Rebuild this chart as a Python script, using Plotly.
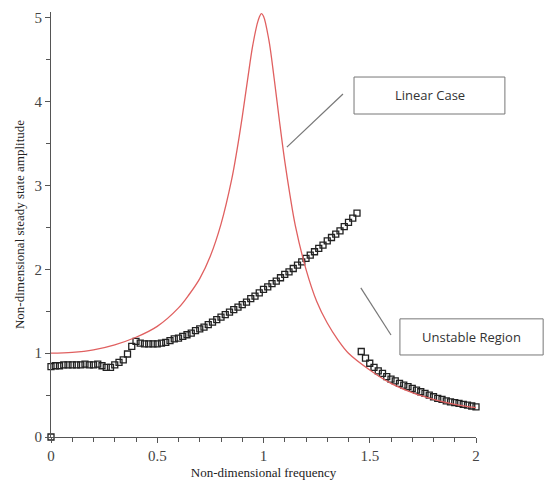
import plotly.graph_objects as go

# Linear case curve
lin_x = [0.0, 0.1, 0.2, 0.3, 0.4, 0.5, 0.6, 0.65, 0.7, 0.75, 0.8, 0.85, 0.875, 0.9, 0.925, 0.95,
         0.975, 0.99, 1.0, 1.025, 1.05, 1.075, 1.1, 1.125, 1.15, 1.2, 1.25, 1.3, 1.35, 1.4, 1.5,
         1.6, 1.7, 1.8, 1.9, 2.0]
lin_y = [1.00, 1.01, 1.04, 1.10, 1.19, 1.32, 1.54, 1.70, 1.89, 2.16, 2.54, 3.07, 3.42, 3.82, 4.26, 4.68,
         4.97, 5.05, 5.02, 4.74, 4.28, 3.77, 3.29, 2.88, 2.52, 2.00, 1.62, 1.36, 1.16, 1.00, 0.80,
         0.64, 0.53, 0.45, 0.39, 0.35]

# Nonlinear (marker) series
nl_x = [0.0, 0.0, 0.02, 0.04, 0.06, 0.08, 0.10, 0.12, 0.14, 0.16, 0.18, 0.20, 0.22,
        0.24, 0.26, 0.28, 0.30, 0.32, 0.34, 0.36, 0.38, 0.40, 0.42, 0.44, 0.46, 0.48, 0.50,
        0.52, 0.54, 0.56, 0.58, 0.60, 0.62, 0.64, 0.66, 0.68, 0.70, 0.72, 0.74, 0.76, 0.78,
        0.80, 0.82, 0.84, 0.86, 0.88, 0.90, 0.92, 0.94, 0.96, 0.98, 1.00, 1.02, 1.04, 1.06,
        1.08, 1.10, 1.12, 1.14, 1.16, 1.18, 1.20, 1.22, 1.24, 1.26, 1.28, 1.30, 1.32, 1.34,
        1.36, 1.38, 1.40, 1.42, 1.44,
        1.46, 1.48, 1.50, 1.52, 1.54, 1.56, 1.58, 1.60, 1.62, 1.64, 1.66, 1.68, 1.70, 1.72,
        1.74, 1.76, 1.78, 1.80, 1.82, 1.84, 1.86, 1.88, 1.90, 1.92, 1.94, 1.96, 1.98, 2.00]
nl_y = [0.00, 0.84, 0.85, 0.85, 0.86, 0.86, 0.86, 0.86, 0.86, 0.87, 0.86, 0.86, 0.87,
        0.85, 0.83, 0.83, 0.86, 0.89, 0.92, 0.99, 1.08, 1.14, 1.12, 1.11, 1.11, 1.11, 1.11,
        1.12, 1.13, 1.15, 1.17, 1.18, 1.20, 1.22, 1.24, 1.27, 1.29, 1.31, 1.34, 1.37, 1.40,
        1.43, 1.46, 1.49, 1.52, 1.55, 1.58, 1.61, 1.65, 1.68, 1.72, 1.76, 1.79, 1.83, 1.86,
        1.90, 1.94, 1.97, 2.01, 2.05, 2.09, 2.13, 2.17, 2.21, 2.25, 2.29, 2.34, 2.38, 2.42,
        2.46, 2.51, 2.56, 2.61, 2.67,
        1.02, 0.94, 0.88, 0.83, 0.79, 0.76, 0.72, 0.69, 0.67, 0.64, 0.62, 0.60, 0.58, 0.56,
        0.54, 0.52, 0.50, 0.48, 0.46, 0.45, 0.43, 0.42, 0.41, 0.40, 0.39, 0.38, 0.37, 0.36]

x_ticks = [0, 0.5, 1, 1.5, 2]
x_labels = ["0", "0.5", "1", "1.5", "2"]
y_ticks = [0, 1, 2, 3, 4, 5]
y_labels = ["0", "1", "2", "3", "4", "5"]

fig = go.Figure()
fig.add_trace(go.Scatter(
    x=nl_x, y=nl_y, mode="markers",
    marker=dict(symbol="square-open", size=6, color="#222222", line=dict(width=1.3)),
    cliponaxis=False, showlegend=False, hoverinfo="skip"))
fig.add_trace(go.Scatter(
    x=lin_x, y=lin_y, mode="lines", line=dict(color="#e06060", width=1.3, shape="spline"),
    showlegend=False, hoverinfo="skip"))

serif = "Liberation Serif"
fig.update_layout(
    width=548, height=483,
    margin=dict(l=51, r=72, t=12, b=46, autoexpand=False),
    paper_bgcolor="white", plot_bgcolor="white",
    xaxis=dict(range=[0, 2], tickvals=x_ticks, ticktext=x_labels, showgrid=False, zeroline=False,
               automargin=False,
               showline=True, linecolor="#555555", linewidth=1.2,
               ticks="outside", ticklen=5, tickcolor="#555555", tickwidth=1.2,
               minor=dict(dtick=0.1, ticks="outside", ticklen=4, tickcolor="#555555", tickwidth=1),
               tickfont=dict(family=serif, size=15, color="#444444"),
               title=dict(text="Non-dimensional frequency", font=dict(family=serif, size=13, color="#222222"),
                          standoff=4)),
    yaxis=dict(range=[0, 5.07], tickvals=y_ticks, ticktext=y_labels, showgrid=False, zeroline=False,
               automargin=False,
               showline=True, linecolor="#555555", linewidth=1.2,
               ticks="outside", ticklen=5, tickcolor="#555555", tickwidth=1.2,
               minor=dict(dtick=0.5, ticks="outside", ticklen=4, tickcolor="#555555", tickwidth=1),
               tickfont=dict(family=serif, size=15, color="#444444"),
               title=dict(text="Non-dimensional steady state amplitude",
                          font=dict(family=serif, size=13, color="#222222"), standoff=6)),
)

# Annotation boxes and leader lines (paper coordinates so they can extend past the axes)
box_line = dict(color="#777777", width=1)
fig.add_shape(type="rect", x0=0.713, x1=1.068, y0=0.760, y1=0.847, xref="paper", yref="paper",
              line=box_line, fillcolor="white")
fig.add_shape(type="line", x0=0.687, y0=0.807, x1=0.555, y1=0.682, xref="paper", yref="paper",
              line=dict(color="#777777", width=1.2))
fig.add_shape(type="rect", x0=0.821, x1=1.158, y0=0.193, y1=0.278, xref="paper", yref="paper",
              line=box_line, fillcolor="white")
fig.add_shape(type="line", x0=0.729, y0=0.351, x1=0.800, y1=0.240, xref="paper", yref="paper",
              line=dict(color="#777777", width=1.2))
sans = "Open Sans"
fig.add_annotation(x=0.891, y=0.804, text="Linear Case", showarrow=False, xref="paper", yref="paper",
                   xanchor="center", yanchor="middle",
                   font=dict(family=sans, size=13, color="#333333"))
fig.add_annotation(x=0.990, y=0.236, text="Unstable Region", showarrow=False, xref="paper", yref="paper",
                   xanchor="center", yanchor="middle",
                   font=dict(family=sans, size=13, color="#333333"))

fig.write_html("out.html")
